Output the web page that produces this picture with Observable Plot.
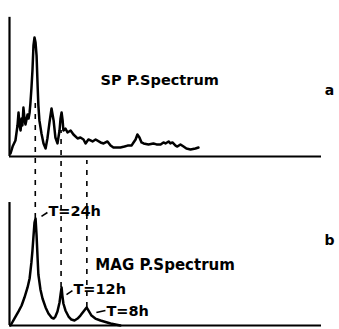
<!DOCTYPE html>
<html><head><meta charset="utf-8">
<script src="https://cdn.jsdelivr.net/npm/d3@7"></script>
<script src="https://cdn.jsdelivr.net/npm/@observablehq/plot@0.6"></script>
<style>body{margin:0;background:#fff}</style>
</head><body><div id="chart"></div>
<script>
// frequency in cycles/day, power in normalized units
const panels = ["a", "b"];
const xMax = 12.1;
const axisTop = [0.98, 0.866];

const spFreq = [0.04,0.12,0.23,0.31,0.35,0.39,0.43,0.47,0.50,0.54,0.58,0.62,0.70,0.74,0.78,0.81,0.85,0.89,0.93,0.97,1.01,1.05,1.09,1.12,1.16,1.24,1.32,1.40,1.47,1.55,1.63,1.71,1.78,1.86,1.94,1.98,2.02,2.06,2.09,2.17,2.25,2.37,2.48,2.64,2.75,2.87,2.95,3.06,3.22,3.34,3.53,3.65,3.80,3.92,4.03,4.19,4.30,4.46,4.58,4.73,4.81,4.89,4.96,5.04,5.12,5.20,5.39,5.58,5.70,5.86,5.97,6.05,6.17,6.24,6.32,6.44,6.51,6.63,6.75,6.86,7.02,7.21,7.33];
const spPower = [0.021,0.070,0.113,0.218,0.310,0.218,0.183,0.268,0.218,0.345,0.268,0.225,0.296,0.268,0.310,0.373,0.479,0.606,0.782,0.838,0.803,0.711,0.500,0.359,0.254,0.162,0.092,0.056,0.127,0.239,0.338,0.254,0.134,0.092,0.183,0.268,0.310,0.254,0.183,0.197,0.169,0.183,0.155,0.127,0.134,0.120,0.092,0.120,0.106,0.120,0.099,0.092,0.106,0.077,0.063,0.063,0.063,0.070,0.077,0.077,0.099,0.120,0.155,0.134,0.099,0.092,0.085,0.092,0.085,0.085,0.099,0.092,0.106,0.092,0.099,0.077,0.070,0.085,0.070,0.056,0.049,0.056,0.063];

const magFreq = [0.04,0.19,0.35,0.47,0.58,0.70,0.78,0.85,0.89,0.93,0.97,1.01,1.05,1.09,1.12,1.20,1.28,1.40,1.51,1.63,1.71,1.78,1.86,1.94,1.98,2.02,2.05,2.09,2.17,2.29,2.40,2.52,2.64,2.75,2.87,2.99,3.06,3.18,3.33,3.53,3.92,4.30];
const magPower = [0,0.049,0.099,0.141,0.197,0.268,0.331,0.444,0.528,0.627,0.725,0.754,0.634,0.472,0.359,0.254,0.190,0.127,0.085,0.056,0.049,0.063,0.099,0.162,0.218,0.268,0.211,0.155,0.106,0.063,0.042,0.035,0.049,0.070,0.099,0.127,0.106,0.070,0.049,0.035,0.014,0];

// tidal peaks
const peakFreq = [1, 2, 3];
const peakPower = [0.754, 0.268, 0.127];
const peakDashTop = [1.585, 1.373, 1.162];
const peakLabels = ["T=24h", "T=12h", "T=8h"];
const peakLabelF = [1.47, 2.44, 3.72];
const peakLabelV = [0.803, 0.254, 0.099];
const leaderF1 = [1.24, 2.21, 3.37];
const leaderV1 = [0.768, 0.218, 0.092];
const leaderV2 = [0.796, 0.246, 0.106];

const titles = ["SP P.Spectrum", "MAG P.Spectrum"];
const titleF = [3.53, 3.33];
const titleV = [0.535, 0.423];
const titleSize = [14.5, 15];
const letterF = 12.41;
const letterV = [0.465, 0.599];

const sp = spFreq.map((f, i) => ({panel: "a", f, v: spPower[i]}));
const mag = magFreq.map((f, i) => ({panel: "b", f, v: magPower[i]}));
const axes = panels.map((p, i) => ({panel: p, top: axisTop[i]}));
const peaks = peakFreq.map((f, i) => ({panel: "b", f, lo: peakPower[i], hi: peakDashTop[i],
  label: peakLabels[i], lf: peakLabelF[i], lv: peakLabelV[i], f1: leaderF1[i], v1: leaderV1[i], v2: leaderV2[i]}));
const titleData = panels.map((p, i) => ({panel: p, text: titles[i], f: titleF[i], v: titleV[i], lv: letterV[i], size: titleSize[i]}));

const font = {fontFamily: "DejaVu Sans", fontWeight: "bold", fill: "#000"};

const chart = Plot.plot({
  width: 339, height: 329,
  marginTop: 14, marginBottom: 4, marginLeft: 9, marginRight: 18,
  style: {background: "#fff"},
  x: {domain: [0, xMax], axis: null},
  y: {domain: [0, 1], axis: null},
  fy: {domain: panels, axis: null, paddingInner: 27 / 169, paddingOuter: 0, label: null},
  marks: [
    Plot.ruleY(axes, {fy: "panel", y: 0, x1: 0, x2: xMax, stroke: "#000", strokeWidth: 2.2}),
    Plot.ruleX(axes, {fy: "panel", x: 0, y1: 0, y2: "top", stroke: "#000", strokeWidth: 2.2}),
    Plot.line(sp, {fy: "panel", x: "f", y: "v", stroke: "#000", strokeWidth: 2.5, strokeLinejoin: "round"}),
    Plot.line(mag, {fy: "panel", x: "f", y: "v", stroke: "#000", strokeWidth: 2.5, strokeLinejoin: "round"}),
    Plot.ruleX(peaks, {fy: "panel", x: "f", y1: "lo", y2: "hi", stroke: "#000", strokeWidth: 1.6, strokeDasharray: "5,6"}),
    Plot.link(peaks, {fy: "panel", x1: "f1", y1: "v1", x2: "lf", y2: "v2", stroke: "#000", strokeWidth: 1.6}),
    Plot.text(peaks, {fy: "panel", x: "lf", y: "lv", text: "label", textAnchor: "start", dx: 1, fontSize: 14.5, ...font}),
    Plot.text(titleData, {fy: "panel", x: "f", y: "v", text: "text", textAnchor: "start", fontSize: "size", ...font}),
    Plot.text(titleData, {fy: "panel", x: letterF, y: "lv", text: "panel", fontSize: 14, ...font})
  ]
});
document.getElementById("chart").append(chart);
</script>
</body></html>
